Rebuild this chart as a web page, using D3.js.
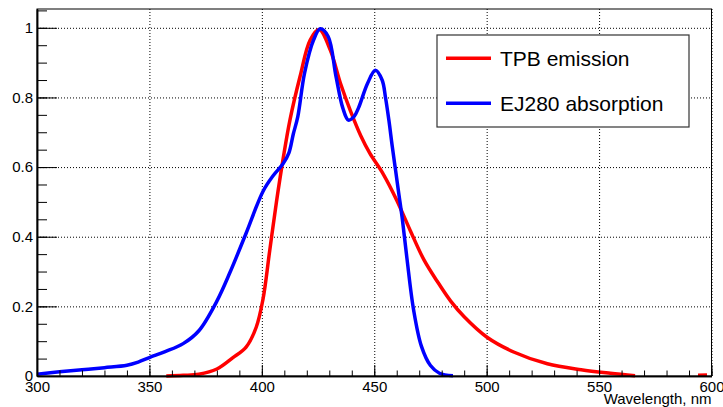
<!DOCTYPE html>
<html>
<head>
<meta charset="utf-8">
<script src="https://cdn.jsdelivr.net/npm/d3@7"></script>
<style>
  html, body { margin: 0; padding: 0; background: #fff; }
  svg { display: block; font-family: "Liberation Sans", Arial, sans-serif; }
</style>
</head>
<body>
<svg id="chart"></svg>
<script>
// TPB emission vs EJ280 absorption spectra

// --- data ---
const tpbWavelength = [357.5, 365, 372, 380, 387, 393, 397.5, 400.5, 403.5, 406.5, 409.5, 412.5,
    417, 421.5, 425.5, 430.5, 435, 439.5, 444, 448, 454, 460, 466, 472, 478, 484, 490, 500,
    512, 527, 542, 555, 566, 580, 594, 598];
const tpbEmission = [0, 0.002, 0.005, 0.02, 0.052, 0.083, 0.14, 0.22, 0.36, 0.5, 0.625, 0.735,
    0.86, 0.965, 0.995, 0.935, 0.84, 0.76, 0.69, 0.64, 0.58, 0.505, 0.418, 0.335, 0.272, 0.215, 0.17, 0.112,
    0.069, 0.035, 0.018, 0.008, 0.001, null, 0.002, 0.003];

const ejWavelength = [300, 310, 320, 330, 340, 345, 350, 357, 365, 372, 380, 386, 393, 400.5, 405,
    409.5, 412, 414, 416, 419, 423, 426, 429.5, 433, 436, 438.5, 441, 443, 447, 450.5, 453.5, 455,
    456.5, 458, 459.5, 461, 462.5, 464.5, 467.5, 471, 475, 479, 485];
const ejAbsorption = [0.005, 0.012, 0.018, 0.024, 0.031, 0.04, 0.053, 0.07, 0.093, 0.13, 0.215, 0.3, 0.41, 0.53, 0.575,
    0.61, 0.64, 0.695, 0.745, 0.87, 0.965, 0.997, 0.975, 0.86, 0.77, 0.735, 0.745, 0.77, 0.84, 0.878, 0.85, 0.8,
    0.735, 0.66, 0.59, 0.52, 0.45, 0.34, 0.19, 0.085, 0.03, 0.008, 0.001];

const xMajorTicks = [300, 350, 400, 450, 500, 550, 600];
const yMajorTicks = [0, 0.2, 0.4, 0.6, 0.8, 1];
const seriesNames = ['TPB emission', 'EJ280 absorption'];
const seriesColors = ['#ff0000', '#0000ff'];

// --- layout ---
const W = 723, H = 407;
const m = { left: 37, right: 11.5, top: 9, bottom: 31 };
const pw = W - m.left - m.right, ph = H - m.top - m.bottom;

const svg = d3.select('#chart').attr('width', W).attr('height', H);
const g = svg.append('g').attr('transform', `translate(${m.left},${m.top})`);

const x = d3.scaleLinear().domain([300, 600]).range([0, pw]);
const y = d3.scaleLinear().domain([0, 1.054]).range([ph, 0]);

// --- grid (dotted) ---
const gridX = g.append('g').attr('transform', `translate(0,${ph})`)
    .call(d3.axisBottom(x).tickValues(xMajorTicks).tickSize(-ph).tickFormat(''));
const gridY = g.append('g')
    .call(d3.axisLeft(y).tickValues(yMajorTicks).tickSize(-pw).tickFormat(''));
[gridX, gridY].forEach(a => {
    a.select('.domain').remove();
    a.selectAll('line').attr('stroke', '#000').attr('stroke-width', 1).attr('stroke-dasharray', '1,2');
});

// --- curves ---
const series = [
    tpbWavelength.map((w, i) => ({ w, v: tpbEmission[i] })),
    ejWavelength.map((w, i) => ({ w, v: ejAbsorption[i] }))
];
const line = d3.line()
    .defined(d => d.v !== null)
    .x(d => x(d.w))
    .y(d => y(Math.max(0, d.v)))
    .curve(d3.curveCatmullRom.alpha(0.5));

g.append('g').selectAll('path')
    .data(series)
    .enter()
    .append('path')
    .attr('d', line)
    .attr('fill', 'none')
    .attr('stroke', (d, i) => seriesColors[i])
    .attr('stroke-width', 3.5)
    .attr('stroke-linejoin', 'round');

// --- frame ---
g.append('rect').attr('width', pw).attr('height', ph)
    .attr('fill', 'none').attr('stroke', '#000').attr('stroke-width', 1);

// --- axes: minor then major ticks, pointing inward ---
const xMinor = g.append('g').attr('transform', `translate(0,${ph})`)
    .call(d3.axisBottom(x).tickValues(d3.range(300, 601, 10)).tickSize(-5.5).tickSizeOuter(0).tickFormat(''));
const xMajor = g.append('g').attr('transform', `translate(0,${ph})`)
    .call(d3.axisBottom(x).tickValues(xMajorTicks).tickSize(-11).tickSizeOuter(0).tickPadding(5).tickFormat(d3.format('d')));
const yMinor = g.append('g')
    .call(d3.axisLeft(y).tickValues(d3.range(0, 22).map(i => i * 0.05)).tickSize(-10).tickSizeOuter(0).tickFormat(''));
const yMajor = g.append('g')
    .call(d3.axisLeft(y).tickValues(yMajorTicks).tickSize(-20).tickSizeOuter(0).tickPadding(4).tickFormat(d3.format('~g')));

[xMinor, xMajor, yMinor, yMajor].forEach(a => {
    a.select('.domain').attr('stroke', '#000').attr('stroke-width', 1.5);
    a.selectAll('line').attr('stroke', '#000').attr('stroke-width', 1);
    a.selectAll('text').attr('fill', '#000').style('font-size', '15px')
        .style('font-family', '"Liberation Sans", Arial, sans-serif');
});

// axis title
g.append('text')
    .attr('x', pw).attr('y', ph + 28)
    .attr('text-anchor', 'end')
    .style('font-size', '15px')
    .text('Wavelength, nm');

// --- legend ---
const lg = svg.append('g').attr('transform', 'translate(437,35)');
lg.append('rect').attr('width', 252).attr('height', 92)
    .attr('fill', '#fff').attr('stroke', '#333').attr('stroke-width', 1.2);

const items = lg.selectAll('.legend-item')
    .data(seriesNames)
    .enter()
    .append('g')
    .attr('class', 'legend-item')
    .attr('transform', (d, i) => `translate(0,${23.3 + i * 45})`);

items.append('line')
    .attr('x1', 9).attr('x2', 54)
    .attr('stroke', (d, i) => seriesColors[i])
    .attr('stroke-width', 3.5);

items.append('text')
    .attr('x', 63).attr('dy', '0.36em')
    .style('font-size', '21px')
    .text(d => d);
</script>
</body>
</html>
